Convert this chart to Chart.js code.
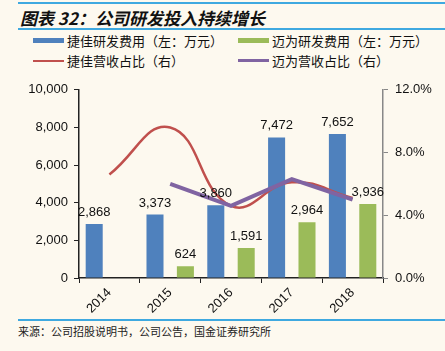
<!DOCTYPE html>
<html>
<head>
<meta charset="utf-8">
<script src="https://cdn.jsdelivr.net/npm/chart.js@4"></script>
<style>
  html, body { margin: 0; padding: 0; background: #fdf9ef; }
  body { width: 445px; height: 351px; position: relative; overflow: hidden; font-family: "Noto Sans CJK SC", sans-serif; }
  .rule { position: absolute; left: 18px; right: 0; height: 2px; background: #3fa9e0; }
  #title { position: absolute; left: 20px; top: 5px; font-size: 17px; font-weight: bold; font-style: italic; color: #111; white-space: nowrap; }
  .leg { position: absolute; font-size: 13px; color: #111; white-space: nowrap; line-height: 16px; }
  .sw { position: absolute; }
  #source { position: absolute; left: 18px; top: 323px; font-size: 11px; color: #222; white-space: nowrap; }
  #wrap { position: absolute; left: 0; top: 75px; }
</style>
</head>
<body>
<div class="rule" style="top:2px"></div>
<div id="title">图表 32：公司研发投入持续增长</div>
<div class="rule" style="top:28px"></div>

<div class="sw" style="left:33px;top:38px;width:31px;height:5px;background:#4f81bd"></div>
<div class="leg" style="left:67px;top:33px">捷佳研发费用（左：万元）</div>
<div class="sw" style="left:238px;top:38px;width:31px;height:5px;background:#9bbb59"></div>
<div class="leg" style="left:272px;top:33px">迈为研发费用（左：万元）</div>
<div class="sw" style="left:33px;top:60px;width:31px;height:2px;background:#c0504d"></div>
<div class="leg" style="left:67px;top:53px">捷佳营收占比（右）</div>
<div class="sw" style="left:238px;top:59px;width:31px;height:3px;background:#8064a2"></div>
<div class="leg" style="left:272px;top:53px">迈为营收占比（右）</div>

<div id="wrap"><canvas id="c" width="445" height="243"></canvas></div>

<div class="rule" style="top:319px"></div>
<div id="source">来源：公司招股说明书，公司公告，国金证券研究所</div>

<script>
const years = ['2014', '2015', '2016', '2017', '2018'];
const jieJiaRD = [2868, 3373, 3860, 7472, 7652];
const maiWeiRD = [null, 624, 1591, 2964, 3936];
const jieJiaRatio = [6.6, 9.6, 4.6, 6.1, 5.1];
const maiWeiRatio = [null, 6.0, 4.6, 6.3, 5.0];
const leftTicks = [0, 2000, 4000, 6000, 8000, 10000];
const rightTicks = [0, 4, 8, 12];

const numFont = { family: '"Liberation Sans", Arial, sans-serif', size: 13 };

// value labels above the bars
const barLabels = {
    id: 'barLabels',
    afterDatasetsDraw(chart) {
        const ctx = chart.ctx;
        ctx.save();
        ctx.font = '13px "Liberation Sans", Arial, sans-serif';
        ctx.fillStyle = '#111';
        ctx.textAlign = 'center';
        ctx.textBaseline = 'bottom';
        chart.data.datasets.forEach((ds, i) => {
            if (ds.type !== 'bar') return;
            chart.getDatasetMeta(i).data.forEach((el, j) => {
                const v = ds.data[j];
                if (v == null) return;
                ctx.fillText(v.toLocaleString('en-US'), el.x, el.y - 5);
            });
        });
        ctx.restore();
    }
};

new Chart(document.getElementById('c'), {
    data: {
        labels: years,
        datasets: [
            {
                type: 'line', label: '迈为营收占比（右）', data: maiWeiRatio, yAxisID: 'y1',
                borderColor: '#8064a2', borderWidth: 4, pointRadius: 0, tension: 0, order: 0
            },
            {
                type: 'line', label: '捷佳营收占比（右）', data: jieJiaRatio, yAxisID: 'y1',
                borderColor: '#c0504d', borderWidth: 2.5, pointRadius: 0, tension: 0.45, order: 1
            },
            {
                type: 'bar', label: '捷佳研发费用（左：万元）', data: jieJiaRD, yAxisID: 'y',
                backgroundColor: '#4f81bd', barPercentage: 0.56, categoryPercentage: 1, order: 2
            },
            {
                type: 'bar', label: '迈为研发费用（左：万元）', data: maiWeiRD, yAxisID: 'y',
                backgroundColor: '#9bbb59', barPercentage: 0.56, categoryPercentage: 1, order: 2
            }
        ]
    },
    options: {
        responsive: false,
        devicePixelRatio: 1,
        animation: false,
        layout: { padding: { top: 11, left: 0, right: 0, bottom: 0 } },
        plugins: { legend: { display: false }, tooltip: { enabled: false } },
        scales: {
            x: {
                grid: { display: true, drawOnChartArea: false, offset: true, color: '#222', tickLength: 5 },
                border: { color: '#222', width: 1.5 },
                ticks: { color: '#111', font: numFont, maxRotation: 45, minRotation: 45, padding: 2 },
                afterFit: s => { s.height = 40; }
            },
            y: {
                position: 'left', min: 0, max: 10000,
                afterBuildTicks: s => { s.ticks = leftTicks.map(v => ({ value: v })); },
                grid: { drawOnChartArea: false, color: '#222', tickLength: 5 },
                border: { color: '#222', width: 1.5 },
                ticks: { color: '#111', font: numFont, padding: 6, callback: v => v.toLocaleString('en-US') },
                afterFit: s => { s.width = 79; }
            },
            y1: {
                position: 'right', min: 0, max: 12,
                afterBuildTicks: s => { s.ticks = rightTicks.map(v => ({ value: v })); },
                grid: { drawOnChartArea: false, color: '#888', tickLength: 5 },
                border: { color: '#888', width: 1.5 },
                ticks: { color: '#111', font: numFont, padding: 7, callback: v => v.toFixed(1) + '%' },
                afterFit: s => { s.width = 62; }
            }
        }
    },
    plugins: [barLabels]
});
</script>
</body>
</html>
